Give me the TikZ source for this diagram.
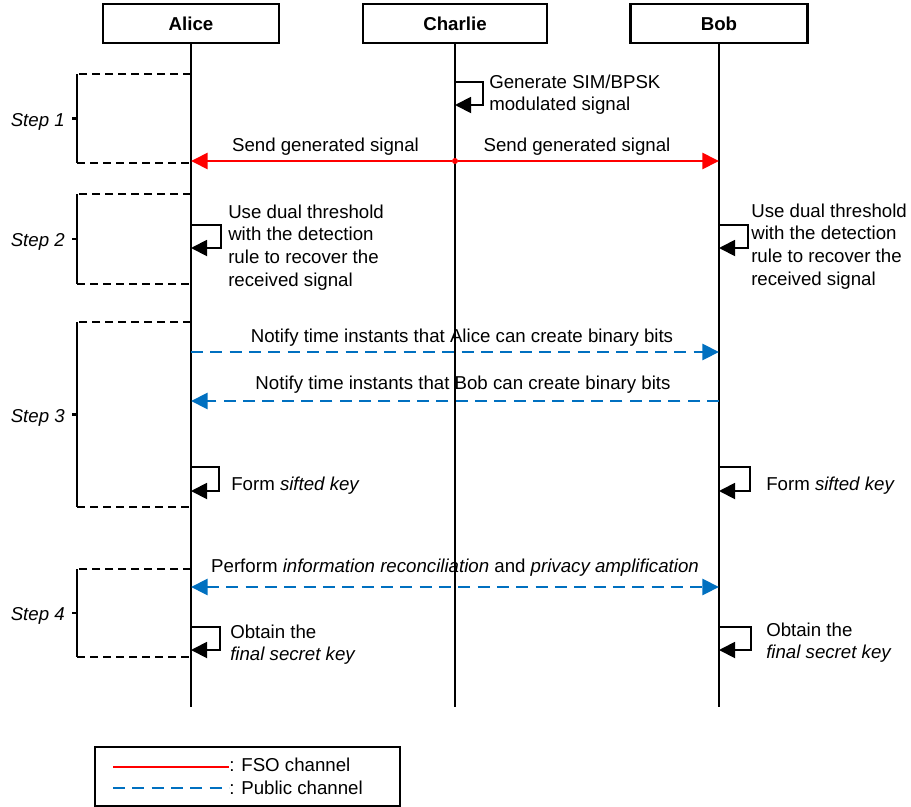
\documentclass[tikz,border=0pt]{standalone}
\usepackage{fontspec}
\setmainfont{Liberation Sans}
\usetikzlibrary{arrows.meta}
\definecolor{pubblue}{RGB}{0,112,192}
\newcommand\stepbrk[4]{% name, top, bottom, label
  \draw[brk] (191,#2) -- (77,#2);
  \draw[brkline] (77,#2) -- (77,#3);
  \draw[brk] (77,#3) -- (191,#3);
  \draw[brkline] (72,{(#2+#3)/2}) -- (77,{(#2+#3)/2});
  \node[txt, font=\fontsize{14pt}{17pt}\selectfont\itshape, anchor=base east] (#1) at (65,{(#2+#3)/2+7.5}) {#4};
}
\begin{document}
\begin{tikzpicture}[x=0.75pt,y=-0.75pt,
  txt/.style={font=\fontsize{14pt}{17pt}\selectfont, inner sep=0pt, align=left},
  actor/.style={draw, line width=2pt, minimum height=29.25pt, inner sep=0pt,
    font=\fontsize{14pt}{17pt}\selectfont\bfseries},
  life/.style={line width=1.4pt},
  fso/.style={red, line width=2pt, -{Triangle[length=12.5pt,width=12pt]}},
  pub/.style={pubblue, line width=2.2pt, dash pattern=on 9pt off 5.5pt},
  pubtip/.style={pub, -{Triangle[length=12.5pt,width=12pt]}},
  pubtips/.style={pub, {Triangle[length=12.5pt,width=12pt]}-{Triangle[length=12.5pt,width=12pt]}},
  brk/.style={line width=1.6pt, dash pattern=on 6pt off 3.75pt},
  brkline/.style={line width=1.6pt},
  selfloop/.style={line width=1.4pt, -{Triangle[length=12pt,width=12pt]}}
]
\useasboundingbox (0,0) rectangle (911,807);

% actors
\node[actor, minimum width=132pt] (alice) at (191,23.5) {Alice};
\node[actor, minimum width=138pt] (charlie) at (455,23.5) {Charlie};
\node[actor, minimum width=132.5pt] (bob) at (719,23.5) {Bob};

% lifelines
\coordinate (aend) at (191,707);
\coordinate (cend) at (455,707);
\coordinate (bend) at (719,707);
\draw[life] (alice.south) -- (aend);
\draw[life] (charlie.south) -- (cend);
\draw[life] (bob.south) -- (bend);

% step brackets
\stepbrk{s1}{74}{163}{Step 1}
\stepbrk{s2}{194}{284}{Step 2}
\stepbrk{s3}{322}{507}{Step 3}
\stepbrk{s4}{569}{657}{Step 4}

% Step 1
\coordinate (c1a) at (455,82);
\coordinate (c1b) at (455,105);
\draw[selfloop] (c1a) -- ++(28,0) |- (c1b);
\node[txt, anchor=north west] (gen) at (489,72.1) {\strut Generate SIM/BPSK\\modulated signal};

\coordinate (a1) at (191,161);
\coordinate (b1) at (719,161);
\node[circle, fill=red, inner sep=0pt, minimum size=4.5pt] (c1) at (455,161) {};
\draw[fso] (c1) -- (a1);
\draw[fso] (c1) -- (b1);
\node[txt, anchor=base] (sendl) at (325.5,151) {Send generated signal};
\node[txt, anchor=base] (sendr) at (577,151) {Send generated signal};

% Step 2
\coordinate (a2a) at (191,225);
\coordinate (a2b) at (191,248);
\draw[selfloop] (a2a) -- ++(30,0) |- (a2b);
\node[txt, anchor=north west] (ause) at (228,202.1) {\strut Use dual threshold\\with the detection\\rule to recover the\\received signal};
\coordinate (b2a) at (719,225);
\coordinate (b2b) at (719,248);
\draw[selfloop] (b2a) -- ++(29,0) |- (b2b);
\node[txt, anchor=north west] (buse) at (751,201.1) {\strut Use dual threshold\\with the detection\\rule to recover the\\received signal};

% Step 3
\coordinate (a3a) at (191,352);
\coordinate (b3a) at (719,352);
\draw[pubtip] (a3a) -- (b3a);
\node[txt, anchor=base] (n1) at (462,342) {Notify time instants that Alice can create binary bits};
\coordinate (a3b) at (191,401);
\coordinate (b3b) at (719,401);
\draw[pubtip] (b3b) -- (a3b);
\node[txt, anchor=base] (n2) at (463,389) {Notify time instants that Bob can create binary bits};

\coordinate (a3c) at (191,467);
\coordinate (a3d) at (191,491);
\draw[selfloop] (a3c) -- ++(28,0) |- (a3d);
\node[txt, anchor=base west] (aform) at (231,490) {Form \textit{sifted key}};
\coordinate (b3c) at (719,467);
\coordinate (b3d) at (719,491);
\draw[selfloop] (b3c) -- ++(31,0) |- (b3d);
\node[txt, anchor=base west] (bform) at (766,490) {Form \textit{sifted key}};

% Step 4
\coordinate (a4a) at (191,587);
\coordinate (b4a) at (719,587);
\draw[pubtips] (a4a) -- (b4a);
\node[txt, anchor=base] (perf) at (455,572) {Perform \textit{information reconciliation} and \textit{privacy amplification}};

\coordinate (a4b) at (191,627);
\coordinate (a4c) at (191,650);
\draw[selfloop] (a4b) -- ++(29,0) |- (a4c);
\node[txt, anchor=north west] (aobt) at (230,622.1) {\strut Obtain the\\\textit{final secret key}};
\coordinate (b4b) at (719,627);
\coordinate (b4c) at (719,650);
\draw[selfloop] (b4b) -- ++(32,0) |- (b4c);
\node[txt, anchor=north west] (bobt) at (766,620.1) {\strut Obtain the\\\textit{final secret key}};

% legend
\node[draw, line width=1.4pt, minimum width=228.75pt, minimum height=44.25pt, inner sep=0pt] (legend) at (247.5,776.5) {};
\coordinate (lr1) at (113,767);
\coordinate (lr2) at (229,767);
\coordinate (lb1) at (113,788);
\coordinate (lb2) at (229,788);
\draw[red, line width=2pt] (lr1) -- (lr2);
\draw[pub] (lb1) -- (lb2);
\node[txt, anchor=base west] (lfso) at (229,771) {: FSO channel};
\node[txt, anchor=base west] (lpub) at (229,794) {: Public channel};
\end{tikzpicture}
\end{document}
